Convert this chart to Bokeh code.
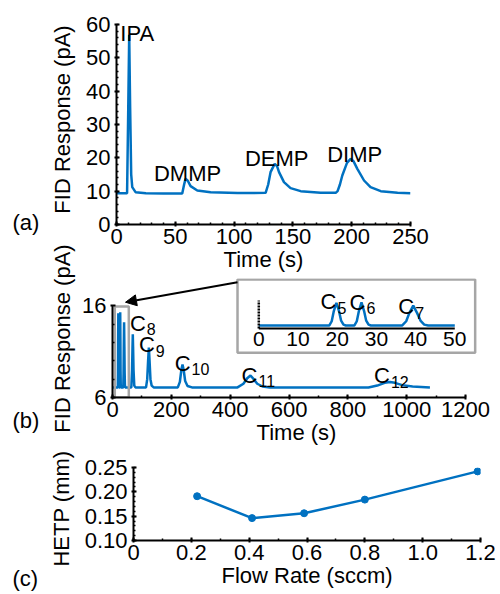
import math
from bokeh.plotting import figure
from bokeh.layouts import column, row
from bokeh.models import (Range1d, FixedTicker, NumeralTickFormatter, Arrow, NormalHead)
from bokeh.embed import file_html
from bokeh.resources import INLINE
from bokeh.core.properties import value

# ---------------- data ----------------
# (a) chromatogram: time (s) and FID response (pA)
a_time = [0, 9.0, 10.0, 10.8, 11.6, 12.5, 13.4, 16.2, 25, 40,
          55.9, 57.5, 58.7, 60.5, 63.0, 68.7, 80, 103,
          126.8, 129, 131, 134.5, 136.5, 138.2, 142.4, 148, 156.6, 173.6, 186.4,
          188, 190, 192, 196, 199.1, 201.5, 204.8, 210.5, 216, 224.7, 239, 250]
a_resp = [9.4, 9.4, 35, 56.9, 35, 15, 11.2, 9.7, 9.4, 9.3,
          9.3, 12.0, 13.7, 13.2, 11.5, 10.2, 9.7, 9.45,
          9.5, 12.0, 15.7, 18.2, 17.5, 15.7, 12.7, 10.9, 10.0, 9.5, 9.5,
          10.0, 12.0, 14.7, 18.5, 19.7, 19.0, 16.7, 13.2, 11.2, 10.0, 9.5, 9.4]
a_names = ["IPA", "DMMP", "DEMP", "DIMP"]
a_peak_t = [10.8, 58.7, 134.5, 199.1]
a_peak_h = [56.9, 13.7, 18.2, 19.7]
a_xticks = [0, 50, 100, 150, 200, 250]
a_yticks = [0, 10, 20, 30, 40, 50, 60]

# (b) alkane chromatogram
b_time = [0,
          18.0, 18.6, 19.1, 19.8, 20.5, 21.0, 21.6, 22.2,
          24.4, 25.0, 25.5, 26.2, 26.9, 27.4, 28.0, 28.6,
          36.6, 37.6, 38.4, 39.4, 40.4, 41.3, 42.2, 43.2,
          50,
          64, 66.5, 68, 69, 70, 71.5, 74, 78,
          114, 118, 121, 123.6, 126, 129, 133, 140,
          222, 229, 234, 238, 242, 247, 255, 270,
          425, 445, 458, 469, 480, 492, 510, 535,
          870, 900, 925, 943, 960, 985, 1020, 1079]
b_resp = [7.1,
          7.1, 8.6, 12.0, 15.2, 12.0, 8.8, 7.4, 7.1,
          7.1, 8.6, 12.0, 15.3, 12.0, 8.8, 7.4, 7.1,
          7.1, 8.6, 11.5, 14.2, 11.5, 8.7, 7.4, 7.1,
          7.1,
          7.1, 9.0, 11.5, 12.9, 11.5, 9.0, 7.3, 7.1,
          7.1, 8.0, 10.0, 11.45, 10.0, 8.0, 7.3, 7.1,
          7.1, 7.7, 9.0, 9.6, 9.0, 7.8, 7.25, 7.1,
          7.1, 7.5, 8.1, 8.4, 8.0, 7.5, 7.2, 7.1,
          7.1, 7.3, 7.6, 7.7, 7.6, 7.35, 7.2, 7.1]
c_main_n = ["8", "9", "10", "11", "12"]
c_main_t = [69, 123.6, 238, 469, 943]
c_main_h = [12.9, 11.45, 9.6, 8.4, 7.7]
c_inset_n = ["5", "6", "7"]
c_inset_t = [19.8, 26.2, 39.4]
c_inset_h = [15.2, 15.3, 14.2]
b_xticks = [0, 200, 400, 600, 800, 1000, 1200]
b_yticks = [6, 16]
inset_ticks = [0, 10, 20, 30, 40, 50]
inset_tick_labels = ["0", "10", "20", "30", "40", "50"]

# (c) HETP vs flow rate
flow = [0.22, 0.41, 0.59, 0.80, 1.19]
hetp = [0.191, 0.146, 0.156, 0.184, 0.242]
c_xticks = [0, 0.2, 0.4, 0.6, 0.8, 1.0, 1.2]
c_xlabels = ["0", "0.2", "0.4", "0.6", "0.8", "1.0", "1.2"]
c_yticks = [0.10, 0.15, 0.20, 0.25]

# ---------------- style ----------------
FONT = "Liberation Sans"
BLUE = "#0071C1"
GRAY = "#A6A6A6"
STRIP_W = 78
PW = 500 - STRIP_W
H_A, H_B, H_C = 278, 173, 143


def style_axes(p):
    p.outline_line_color = None
    p.xgrid.visible = False
    p.ygrid.visible = False
    p.background_fill_color = "white"
    p.border_fill_color = "white"
    for ax in p.axis:
        ax.axis_line_color = "black"
        ax.axis_line_width = 2
        ax.major_tick_line_color = "black"
        ax.minor_tick_line_color = "black"
        ax.major_tick_line_width = 2
        ax.minor_tick_line_width = 1.5
        ax.major_tick_in = 3
        ax.major_tick_out = 2
        ax.minor_tick_in = 2
        ax.minor_tick_out = 0
        ax.major_label_text_font = FONT
        ax.major_label_text_font_size = "22px"
        ax.major_label_text_color = "black"
        ax.axis_label_text_font = FONT
        ax.axis_label_text_font_size = "22px"
        ax.axis_label_text_font_style = "normal"
        ax.axis_label_text_color = "black"
        ax.major_label_standoff = 2
        ax.axis_label_standoff = 0
    p.yaxis.major_label_standoff = 4


def minor_list(lo, hi, step):
    n = int(round((hi - lo) / step))
    return [round(lo + i * step, 6) for i in range(n + 1)]


# ---------------- panel (a) ----------------
pa = figure(width=PW, height=H_A, x_range=Range1d(0, 250), y_range=Range1d(0, 62.4),
            min_border_left=38, min_border_right=90, min_border_top=16, min_border_bottom=54,
            output_backend="svg", toolbar_location=None, frame_align=False)
pa.line(a_time, a_resp, line_color=BLUE, line_width=2.5)
pa.text(x=a_peak_t, y=a_peak_h, text=a_names, x_offset=[8, 2, 2, 4], y_offset=[-1, -5, -5, -4],
        text_align="center", text_baseline="alphabetic", text_font=value(FONT),
        text_font_size="22px", text_color="black")
pa.xaxis.ticker = FixedTicker(ticks=a_xticks, minor_ticks=minor_list(0, 250, 10))
pa.yaxis.ticker = FixedTicker(ticks=a_yticks, minor_ticks=minor_list(0, 60, 2))
pa.yaxis.bounds = (0, 60)
pa.xaxis.axis_label = "Time (s)"
style_axes(pa)

# ---------------- panel (b) ----------------
pb = figure(width=PW, height=H_B, x_range=Range1d(0, 1250.9), y_range=Range1d(6, 18.98),
            min_border_left=34, min_border_right=20, min_border_top=0, min_border_bottom=54,
            output_backend="svg", toolbar_location=None, frame_align=False)
pb.line(b_time, b_resp, line_color=BLUE, line_width=2.5)
# zoom-region marker
pb.quad(left=7.8, right=55.4, bottom=6, top=15.92, fill_color=None, line_color=GRAY, line_width=2.5)
dx_main = [13, 6, 8, 7, 0]
dy_main = [-11, -3, -1, 0, -6]
pb.text(x=c_main_t, y=c_main_h, text=["C"] * len(c_main_n), x_offset=dx_main, y_offset=dy_main,
        text_align="right", text_baseline="alphabetic", text_font=value(FONT),
        text_font_size="22px", text_color="black")
pb.text(x=c_main_t, y=c_main_h, text=c_main_n, x_offset=[d + 1 for d in dx_main],
        y_offset=[d + 6 for d in dy_main],
        text_align="left", text_baseline="alphabetic", text_font=value(FONT),
        text_font_size="16px", text_color="black")
pb.xaxis.ticker = FixedTicker(ticks=b_xticks, minor_ticks=minor_list(0, 1200, 100))
pb.xaxis.bounds = (0, 1200)
pb.yaxis.ticker = FixedTicker(ticks=b_yticks, minor_ticks=[8, 10, 12, 14])
pb.yaxis.bounds = (6, 16)
pb.xaxis.axis_label = "Time (s)"
style_axes(pb)

# inset (first 50 s)
sub = pb.subplot(x_source=Range1d(0, 50), y_source=Range1d(6, 16),
                 x_target=Range1d(497.3, 1163.5), y_target=Range1d(13.52, 16.58))
sub.quad(left=-5.43, right=55.2, bottom=-2.6, top=23.5, fill_color="white",
         line_color=GRAY, line_width=2.5)
in_t = [t for t in b_time if t <= 50]
in_r = [r for t, r in zip(b_time, b_resp) if t <= 50]
sub.line(in_t, in_r, line_color=BLUE, line_width=2.5)
sub.segment(x0=[0], y0=[6], x1=[50], y1=[6], line_color="black", line_width=2)
sub.segment(x0=[0], y0=[6], x1=[0], y1=[16], line_color="black", line_width=2.5, line_dash="2 1")
sub.text(x=inset_ticks, y=[6] * len(inset_ticks), text=inset_tick_labels, y_offset=3,
         text_align="center", text_baseline="top", text_font=value(FONT),
         text_font_size="21px", text_color="black")
dx_in = [0, 4, 1]
dy_in = [-1, 0, 1]
sub.text(x=c_inset_t, y=c_inset_h, text=["C"] * len(c_inset_n), x_offset=dx_in, y_offset=dy_in,
         text_align="right", text_baseline="alphabetic", text_font=value(FONT),
         text_font_size="22px", text_color="black")
sub.text(x=c_inset_t, y=c_inset_h, text=c_inset_n, x_offset=[d + 1 for d in dx_in],
         y_offset=[d + 6 for d in dy_in],
         text_align="left", text_baseline="alphabetic", text_font=value(FONT),
         text_font_size="16px", text_color="black")
pb.add_layout(Arrow(end=NormalHead(size=11, fill_color="black", line_color="black"),
                    x_start=424.9, y_start=18.57, x_end=44.2, y_end=16.39,
                    line_color="black", line_width=2))

# ---------------- panel (c) ----------------
pc = figure(width=PW, height=H_C, x_range=Range1d(0, 1.2), y_range=Range1d(0.10, 0.25),
            min_border_left=55, min_border_right=20, min_border_top=16, min_border_bottom=54,
            output_backend="svg", toolbar_location=None, frame_align=False)
pc.line(flow, hetp, line_color=BLUE, line_width=2.5)
pc.scatter(flow, hetp, size=7, fill_color=BLUE, line_color=BLUE)
pc.xaxis.ticker = FixedTicker(ticks=c_xticks, minor_ticks=minor_list(0, 1.2, 0.1))
pc.xaxis.major_label_overrides = {t: s for t, s in zip(c_xticks, c_xlabels)}
pc.yaxis.ticker = FixedTicker(ticks=c_yticks, minor_ticks=minor_list(0.10, 0.25, 0.01))
pc.yaxis.formatter = NumeralTickFormatter(format="0.00")
pc.xaxis.axis_label = "Flow Rate (sccm)"
style_axes(pc)

# ---------------- left strip: y titles and panel letters ----------------
TOTAL_H = H_A + H_B + H_C
strip = figure(width=STRIP_W, height=TOTAL_H, x_range=Range1d(0, STRIP_W), y_range=Range1d(0, TOTAL_H),
               min_border=0, output_backend="svg", toolbar_location=None,
               x_axis_location=None, y_axis_location=None, frame_align=False)
strip.outline_line_color = None
strip.xgrid.visible = False
strip.ygrid.visible = False
y_titles = ["FID Response (pA)", "FID Response (pA)", "HETP (mm)"]
y_title_cx = [62, 62, 61]
y_title_cy = [119, 338, 508]
strip.text(x=y_title_cx, y=[TOTAL_H - v for v in y_title_cy], text=y_titles, angle=math.pi / 2,
           text_align="center", text_baseline="middle", text_font=value(FONT),
           text_font_size="22px", text_color="black")
panel_letters = ["(a)", "(b)", "(c)"]
letter_base = [222, 420, 578]
strip.text(x=[12, 12, 12], y=[TOTAL_H - v for v in letter_base], text=panel_letters,
           text_align="left", text_baseline="alphabetic", text_font=value(FONT),
           text_font_size="22px", text_color="black")

layout = row(strip, column(pa, pb, pc, spacing=0), spacing=0)
open("out.html", "w").write(file_html(layout, INLINE))
